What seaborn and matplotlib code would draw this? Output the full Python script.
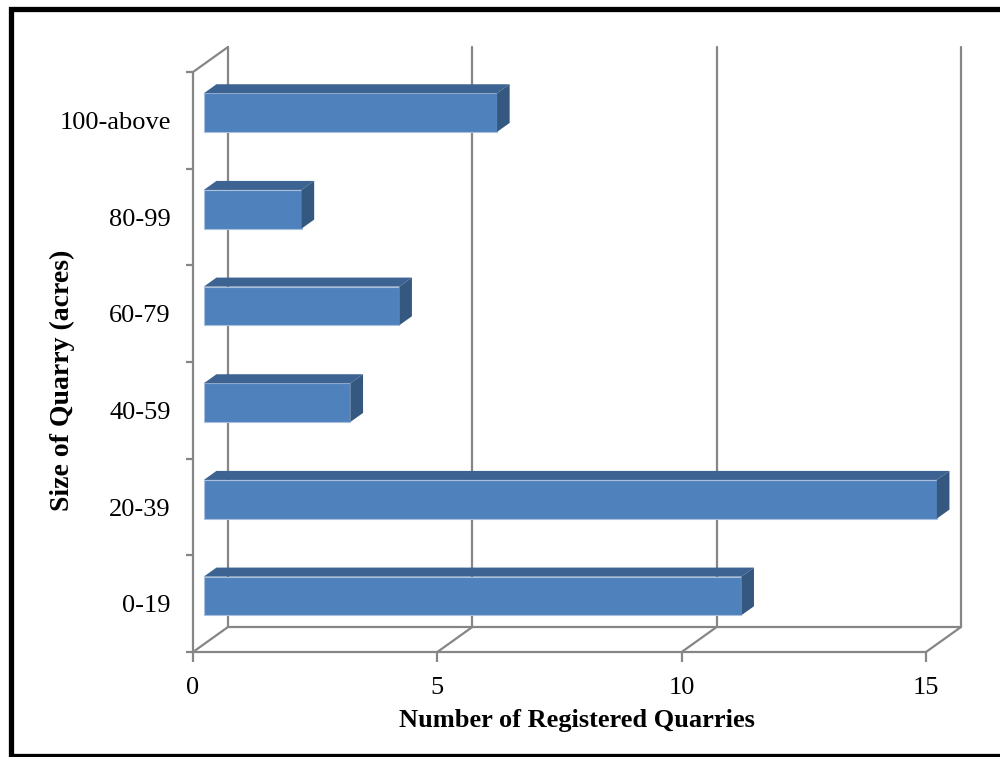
import matplotlib
matplotlib.use("Agg")
import matplotlib.pyplot as plt
import seaborn as sns
import pandas as pd
from matplotlib.patches import Polygon
from matplotlib.lines import Line2D

# Registered quarries by quarry size
sizes = ["0-19", "20-39", "40-59", "60-79", "80-99", "100-above"]
quarries = [11, 15, 3, 4, 2, 6]
x_ticks = [0, 5, 10, 15]

df = pd.DataFrame({"size": sizes, "count": quarries})

sns.set_theme(style="white")
plt.rcParams["font.family"] = ["Liberation Serif", "DejaVu Serif"]
plt.rcParams["text.color"] = "black"
plt.rcParams["axes.labelcolor"] = "black"
plt.rcParams["xtick.labelcolor"] = "black"
plt.rcParams["ytick.labelcolor"] = "black"

W, H = 1000, 757
fig = plt.figure(figsize=(W / 100, H / 100), dpi=100)

# front plane of the 3-D box in pixels
px_left, px_right = 193, 926
px_top, px_bottom = 72, 652
ax = fig.add_axes([px_left / W, (H - px_bottom) / H,
                   (px_right - px_left) / W, (px_bottom - px_top) / H])

xmin, xmax = 0, 15
ymin, ymax = -0.5, len(sizes) - 0.5
ppx = (px_right - px_left) / (xmax - xmin)
ppy = (px_bottom - px_top) / (ymax - ymin)
# depth vector (front wall -> back wall) in data units
DX = 35 / ppx
DY = 25 / ppy

grid_c = "#868686"
grid_lw = 1.6

front_c = "#4f81bd"
top_c = "#3c6391"
side_c = "#34587f"

sns.barplot(data=df, x="count", y="size", order=sizes, orient="h",
            width=0.4, color=front_c, saturation=1, ax=ax, zorder=3,
            edgecolor="#a9c0dc", linewidth=0.8)
ax.set_xlim(xmin, xmax)
ax.set_ylim(ymin, ymax)

# back wall gridlines, floor diagonals, side wall
for xv in x_ticks:
    ax.add_line(Line2D([xv + DX, xv + DX], [ymin + DY, ymax + DY],
                       color=grid_c, lw=grid_lw, clip_on=False, zorder=1))
    ax.add_line(Line2D([xv, xv + DX], [ymin, ymin + DY],
                       color=grid_c, lw=grid_lw, clip_on=False, zorder=1))
ax.add_line(Line2D([xmin, xmax], [ymin, ymin], color=grid_c, lw=grid_lw,
                   clip_on=False, zorder=1))
ax.add_line(Line2D([xmin + DX, xmax + DX], [ymin + DY, ymin + DY],
                   color=grid_c, lw=grid_lw, clip_on=False, zorder=1))
ax.add_line(Line2D([xmin, xmin], [ymin, ymax], color=grid_c, lw=grid_lw,
                   clip_on=False, zorder=1))
ax.add_line(Line2D([xmin, xmin + DX], [ymax, ymax + DY], color=grid_c,
                   lw=grid_lw, clip_on=False, zorder=1))

# give each bar depth: shift the front face into the box, add top and side
f0 = 0.31
fb = 0.36
for patch in ax.patches[:len(sizes)]:
    x0 = patch.get_x() + f0 * DX
    y0 = patch.get_y() + f0 * DY
    w = patch.get_width()
    h = patch.get_height()
    patch.set_x(x0)
    patch.set_y(y0)
    patch.set_clip_on(False)
    x1, y1 = x0 + w, y0 + h
    bx, by = fb * DX, fb * DY
    ax.add_patch(Polygon([(x0, y1), (x1, y1), (x1 + bx, y1 + by), (x0 + bx, y1 + by)],
                         closed=True, facecolor=top_c, edgecolor="none",
                         clip_on=False, zorder=3))
    ax.add_patch(Polygon([(x1, y0), (x1, y1), (x1 + bx, y1 + by), (x1 + bx, y0 + by)],
                         closed=True, facecolor=side_c, edgecolor="none",
                         clip_on=False, zorder=3))

for s in ax.spines.values():
    s.set_visible(False)
ax.grid(False)

ax.set_xticks(x_ticks)
ax.set_xticklabels([str(t) for t in x_ticks])
ax.tick_params(axis="x", direction="out", length=7, width=grid_lw,
               color=grid_c, pad=11, labelsize=19, bottom=True)
ax.set_yticks(range(len(sizes)))
ax.set_yticklabels(sizes)
ax.set_yticks([i - 0.5 for i in range(len(sizes) + 1)], minor=True)
ax.tick_params(axis="y", which="major", length=0, pad=16, labelsize=19, left=True)
ax.tick_params(axis="y", which="minor", direction="out", length=5,
               width=grid_lw, color=grid_c, left=True)

ax.set_xlabel("Number of Registered Quarries", fontsize=19, fontweight="bold")
ax.set_ylabel("Size of Quarry (acres)", fontsize=20, fontweight="bold")
ax.xaxis.set_label_coords((577 - px_left) / (px_right - px_left),
                          (px_bottom - 721) / (px_bottom - px_top))
ax.xaxis.label.set_va("center")
ax.yaxis.set_label_coords((62 - px_left) / (px_right - px_left),
                          (px_bottom - 380) / (px_bottom - px_top))
ax.yaxis.label.set_va("center")

# outer frame
def fx(p):
    return p / W

def fy(p):
    return (H - p) / H

fig.add_artist(Line2D([fx(1010), fx(11), fx(11), fx(1010)],
                      [fy(8.5), fy(8.5), fy(756), fy(756)],
                      color="black", lw=3.8, solid_joinstyle="miter"))

fig.savefig("out.png", dpi=100, facecolor="white")
